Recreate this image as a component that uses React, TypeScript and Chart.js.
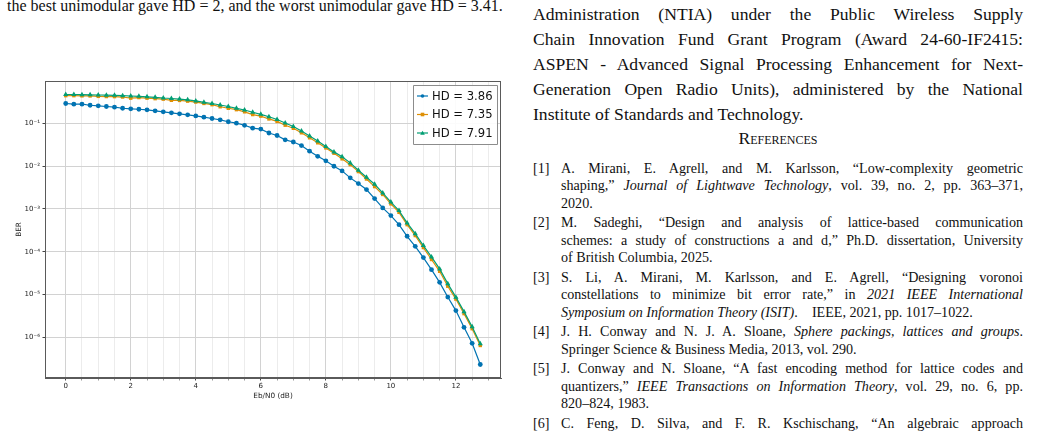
import React, { useEffect, useRef } from "react";
import { Chart, registerables } from "chart.js";

Chart.register(...registerables);

// ---------------- data ----------------
const ebn0 = [
  0, 0.25, 0.5, 0.75, 1, 1.25, 1.5, 1.75, 2, 2.25, 2.5, 2.75, 3, 3.25, 3.5, 3.75,
  4, 4.25, 4.5, 4.75, 5, 5.25, 5.5, 5.75, 6, 6.25, 6.5, 6.75, 7, 7.25, 7.5, 7.75,
  8, 8.25, 8.5, 8.75, 9, 9.25, 9.5, 9.75, 10, 10.25, 10.5, 10.75, 11, 11.25, 11.5,
  11.75, 12, 12.25, 12.5, 12.75,
];

const berHD386 = [
  0.294, 0.283, 0.283, 0.268, 0.26, 0.25, 0.241, 0.228, 0.221, 0.216,
  0.209, 0.198, 0.188, 0.178, 0.169, 0.16, 0.151, 0.141, 0.131, 0.122,
  0.11, 0.102, 0.091, 0.078, 0.074, 0.06, 0.0524, 0.0415, 0.037, 0.0305,
  0.0225, 0.0171, 0.0134, 0.01, 0.0078, 0.00535, 0.00394, 0.00285, 0.00175, 0.00106,
  0.0007, 4.3e-4, 2.3e-4, 1.34e-4, 7.3e-5, 3.8e-5, 1.92e-5, 8.7e-6, 4.2e-6, 1.7e-6,
  7.2e-7, 2.3e-7,
];

const berHD735 = [
  0.449, 0.449, 0.444, 0.442, 0.432, 0.428, 0.426, 0.417, 0.392, 0.405,
  0.392, 0.382, 0.372, 0.35, 0.347, 0.334, 0.318, 0.295, 0.276, 0.247,
  0.2275, 0.211, 0.188, 0.162, 0.149, 0.128, 0.112, 0.0914, 0.0774, 0.0607,
  0.0464, 0.0354, 0.0269, 0.0202, 0.0149, 0.0109, 0.0075, 0.00503, 0.00334, 0.00219,
  0.00132, 8.35e-4, 4.3e-4, 2.39e-4, 1.25e-4, 6.57e-5, 3.48e-5, 1.56e-5, 7.8e-6, 3.56e-6,
  1.58e-6, 6.4e-7,
];

const berHD791 = [
  0.4775, 0.4775, 0.4725, 0.47, 0.465, 0.46, 0.457, 0.448, 0.4406, 0.4335,
  0.422, 0.4108, 0.3956, 0.385, 0.3727, 0.3589, 0.3383, 0.3136, 0.294, 0.2712,
  0.25, 0.227, 0.207, 0.1839, 0.1642, 0.1443, 0.1241, 0.1027, 0.0851, 0.0667,
  0.051, 0.0389, 0.0289, 0.0217, 0.0166, 0.012, 0.00806, 0.00553, 0.00379, 0.00238,
  0.00145, 9.17e-4, 4.73e-4, 2.65e-4, 1.39e-4, 7.55e-5, 3.96e-5, 1.79e-5, 8.65e-6, 3.96e-6,
  1.76e-6, 7.0e-7,
];

const seriesLabels = ["HD = 3.86", "HD = 7.35", "HD = 7.91"];
const seriesColors = ["#0173B2", "#DE8F05", "#029E73"];

const yTickValues = [1e-1, 1e-2, 1e-3, 1e-4, 1e-5, 1e-6];
const yTickLabels = ["10⁻¹", "10⁻²", "10⁻³", "10⁻⁴", "10⁻⁵", "10⁻⁶"];
const xMajorTicks = [0, 2, 4, 6, 8, 10, 12];
const xMinorTicks = [0.5, 1, 1.5, 2.5, 3, 3.5, 4.5, 5, 5.5, 6.5, 7, 7.5, 8.5, 9, 9.5, 10.5, 11, 11.5, 12.5, 13];

const yLabel = "BER";
const xLabel = "Eb/N0 (dB)";

// ---------------- page text ----------------
const captionLine = "the best unimodular gave HD = 2, and the worst unimodular gave HD = 3.41.";
const bodyLines = [
  "Administration (NTIA) under the Public Wireless Supply",
  "Chain Innovation Fund Grant Program (Award 24-60-IF2415:",
  "ASPEN - Advanced Signal Processing Enhancement for Next-",
  "Generation Open Radio Units), administered by the National",
  "Institute of Standards and Technology.",
];

type Seg = { t: string; i?: boolean };
const references: { n: string; lines: Seg[][] }[] = [
  {
    n: "[1]",
    lines: [
      [{ t: "A. Mirani, E. Agrell, and M. Karlsson, “Low-complexity geometric" }],
      [{ t: "shaping,” " }, { t: "Journal of Lightwave Technology", i: true }, { t: ", vol. 39, no. 2, pp. 363–371," }],
      [{ t: "2020." }],
    ],
  },
  {
    n: "[2]",
    lines: [
      [{ t: "M. Sadeghi, “Design and analysis of lattice-based communication" }],
      [{ t: "schemes: a study of constructions a and d,” Ph.D. dissertation, University" }],
      [{ t: "of British Columbia, 2025." }],
    ],
  },
  {
    n: "[3]",
    lines: [
      [{ t: "S. Li, A. Mirani, M. Karlsson, and E. Agrell, “Designing voronoi" }],
      [{ t: "constellations to minimize bit error rate,” in " }, { t: "2021 IEEE International", i: true }],
      [{ t: "Symposium on Information Theory (ISIT)", i: true }, { t: ".\u2003IEEE, 2021, pp. 1017–1022." }],
    ],
  },
  {
    n: "[4]",
    lines: [
      [{ t: "J. H. Conway and N. J. A. Sloane, " }, { t: "Sphere packings, lattices and groups", i: true }, { t: "." }],
      [{ t: "Springer Science & Business Media, 2013, vol. 290." }],
    ],
  },
  {
    n: "[5]",
    lines: [
      [{ t: "J. Conway and N. Sloane, “A fast encoding method for lattice codes and" }],
      [{ t: "quantizers,” " }, { t: "IEEE Transactions on Information Theory", i: true }, { t: ", vol. 29, no. 6, pp." }],
      [{ t: "820–824, 1983." }],
    ],
  },
  {
    n: "[6]",
    lines: [
      [{ t: "C. Feng, D. Silva, and F. R. Kschischang, “An algebraic approach" }],
      [{ t: "to physical-layer network coding,” " }, { t: "IEEE Transactions on Information", i: true }],
    ],
  },
];

// ---------------- chart ----------------
const pointStyles = ["circle", "rect", "triangle"];
const pointRadii = [2.4, 2.4, 3.0];
const axisFont = { family: "DejaVu Sans", size: 7 };

function drawMarker(ctx: CanvasRenderingContext2D, style: string, x: number, y: number, r: number, color: string) {
  ctx.save();
  ctx.fillStyle = color;
  ctx.beginPath();
  if (style === "circle") {
    ctx.arc(x, y, r, 0, Math.PI * 2);
  } else if (style === "rect") {
    ctx.rect(x - r, y - r, 2 * r, 2 * r);
  } else {
    const h = r * 1.3;
    ctx.moveTo(x, y - h);
    ctx.lineTo(x + h, y + h * 0.75);
    ctx.lineTo(x - h, y + h * 0.75);
    ctx.closePath();
  }
  ctx.fill();
  ctx.restore();
}

const frameLegendPlugin = {
  id: "frameLegend",
  afterDraw(chart: any) {
    const { ctx, chartArea } = chart;
    ctx.save();
    ctx.strokeStyle = "#5a5a5a";
    ctx.lineWidth = 1;
    ctx.strokeRect(chartArea.left + 0.5, chartArea.top + 0.5, chartArea.right - chartArea.left - 1, chartArea.bottom - chartArea.top - 1);

    const bw = 84;
    const bh = 59;
    const bx = chartArea.right - bw - 4;
    const by = chartArea.top + 4;
    ctx.fillStyle = "rgba(255,255,255,0.9)";
    ctx.strokeStyle = "#8c8c8c";
    ctx.beginPath();
    ctx.rect(bx + 0.5, by + 0.5, bw, bh);
    ctx.fill();
    ctx.stroke();
    ctx.font = '11.6px "DejaVu Sans"';
    ctx.textBaseline = "middle";
    ctx.textAlign = "left";
    chart.data.datasets.forEach((ds: any, i: number) => {
      const cy = by + 11 + i * 18.5;
      ctx.strokeStyle = ds.borderColor;
      ctx.lineWidth = 1.2;
      ctx.beginPath();
      ctx.moveTo(bx + 4, cy);
      ctx.lineTo(bx + 15, cy);
      ctx.stroke();
      drawMarker(ctx, ds.pointStyle, bx + 9.5, cy, 1.8, ds.borderColor);
      ctx.fillStyle = "#111";
      ctx.fillText(ds.label, bx + 19, cy + 0.5);
    });
    ctx.restore();
  },
};

function BerChart() {
  const ref = useRef<HTMLCanvasElement | null>(null);
  useEffect(() => {
    if (!ref.current) return;
    const series = [berHD386, berHD735, berHD791];
    const chart = new Chart(ref.current, {
      type: "line",
      data: {
        datasets: series.map((vals, k) => ({
          label: seriesLabels[k],
          data: ebn0.map((x, i) => ({ x, y: vals[i] })),
          borderColor: seriesColors[k],
          backgroundColor: seriesColors[k],
          borderWidth: 1.2,
          pointStyle: pointStyles[k] as any,
          pointRadius: pointRadii[k],
          pointBorderWidth: 0,
          pointBackgroundColor: seriesColors[k],
          tension: 0,
          order: 2 - k,
        })),
      },
      options: {
        responsive: false,
        animation: false,
        devicePixelRatio: 1,
        layout: { padding: { left: 0, right: 14, top: 11, bottom: 0 } },
        plugins: { legend: { display: false }, tooltip: { enabled: false } },
        scales: {
          x: {
            type: "linear",
            min: -0.6375,
            max: 13.3875,
            afterBuildTicks: (scale: any) => {
              scale.ticks = [...xMajorTicks, ...xMinorTicks].sort((a, b) => a - b).map((v) => ({ value: v }));
            },
            afterFit: (scale: any) => {
              scale.height = 22;
            },
            ticks: {
              autoSkip: false,
              maxRotation: 0,
              padding: 1.5,
              color: "#222",
              font: axisFont,
              callback: (v: any) => (xMajorTicks.includes(Number(v)) ? String(v) : ""),
            },
            grid: {
              color: (c: any) => (c.tick && xMajorTicks.includes(c.tick.value) ? "#d2d2d2" : "#ececec"),
              tickColor: (c: any) => (c.tick && xMajorTicks.includes(c.tick.value) ? "#444" : "#999"),
              tickLength: 2.5,
              lineWidth: 1,
            },
            border: { display: true, color: "#5a5a5a" },
            title: { display: true, text: xLabel, color: "#222", font: { family: "DejaVu Sans", size: 7.3 }, padding: { top: 1, bottom: 0 } },
          },
          y: {
            type: "logarithmic",
            min: 1.11e-7,
            max: 0.989,
            afterBuildTicks: (scale: any) => {
              scale.ticks = yTickValues.map((v) => ({ value: v, major: true }));
            },
            afterFit: (scale: any) => {
              scale.width = 45;
            },
            ticks: {
              autoSkip: false,
              padding: 2.5,
              color: "#222",
              font: axisFont,
              callback: (v: any) => {
                const idx = yTickValues.findIndex((t) => Math.abs(Math.log10(t) - Math.log10(Number(v))) < 1e-6);
                return idx >= 0 ? yTickLabels[idx] : "";
              },
            },
            grid: { color: "#d2d2d2", tickColor: "#444", tickLength: 2.5, lineWidth: 1 },
            border: { display: true, color: "#5a5a5a" },
            title: { display: true, text: yLabel, color: "#222", font: { family: "DejaVu Sans", size: 7.3 }, padding: { top: 15, bottom: 0 } },
          },
        },
      } as any,
      plugins: [frameLegendPlugin],
    });
    return () => chart.destroy();
  }, []);
  return <canvas ref={ref} width={515} height={330} style={{ width: 515, height: 330, display: "block" }} />;
}

const serif = '"Liberation Serif", "Times New Roman", serif';

export default function App() {
  const refTop = 159.5;
  const lh = 17.5;
  const gap = 2;
  let y = refTop;
  const refBlocks: React.ReactNode[] = [];
  references.forEach((r, ri) => {
    r.lines.forEach((ln, li) => {
      const last = li === r.lines.length - 1 && ri !== references.length - 1;
      refBlocks.push(
        <div key={`${ri}-${li}`} style={{ position: "absolute", top: y, left: 0, width: 490, height: lh, lineHeight: `${lh}px`, whiteSpace: "nowrap" }}>
          {li === 0 ? <span style={{ position: "absolute", left: 0 }}>{r.n}</span> : null}
          <div style={{ position: "absolute", left: 28, width: 462, textAlign: "justify", textAlignLast: last ? "left" : "justify", whiteSpace: "normal" } as any}>
            {ln.map((s, k) => (s.i ? <i key={k}>{s.t}</i> : <span key={k}>{s.t}</span>))}
          </div>
        </div>
      );
      y += lh;
    });
    y += gap;
  });

  return (
    <div style={{ position: "fixed", left: 0, top: 0, width: 1041, height: 433, overflow: "hidden", background: "#fff", color: "#111", fontFamily: serif }}>
      <div style={{ position: "absolute", left: 7, top: -2, fontSize: 16, lineHeight: "16px", whiteSpace: "nowrap" }}>
        {captionLine}
      </div>
      <div style={{ position: "absolute", left: 0, top: 70 }}>
        <BerChart />
      </div>
      <div style={{ position: "absolute", left: 533, top: 2, width: 490, fontSize: 17.6, lineHeight: "25px" }}>
        {bodyLines.map((l, i) => (
          <div key={i} style={{ textAlign: "justify", textAlignLast: i === bodyLines.length - 1 ? "left" : "justify", whiteSpace: "nowrap" } as any}>
            {l}
          </div>
        ))}
      </div>
      <div style={{ position: "absolute", left: 533, top: 126, width: 490, fontSize: 17.6, lineHeight: "25px", textAlign: "center", fontVariant: "small-caps" }}>
        References
      </div>
      <div style={{ position: "absolute", left: 533, top: 0, width: 490, fontSize: 14.1 }}>{refBlocks}</div>
    </div>
  );
}
